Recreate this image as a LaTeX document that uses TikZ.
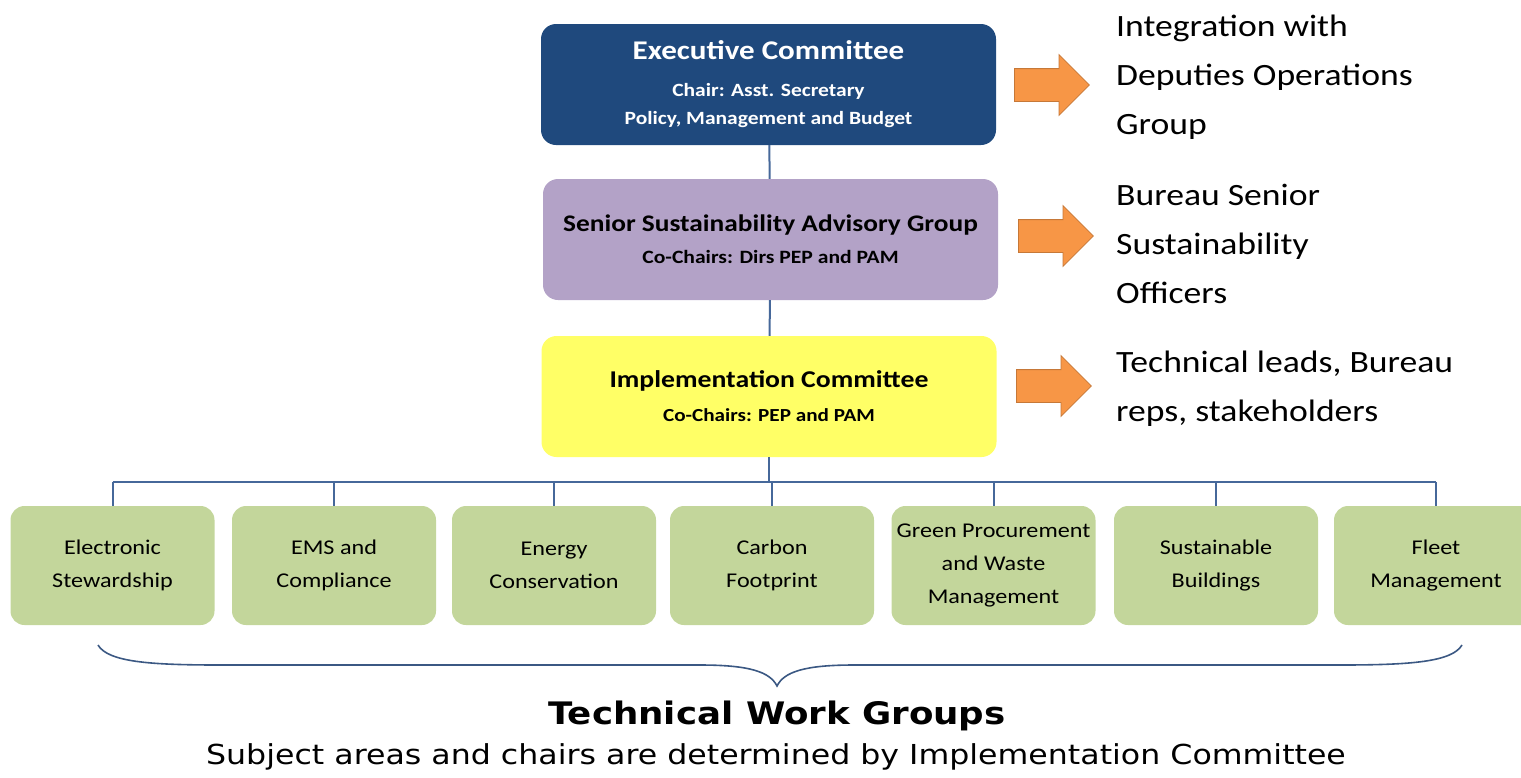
\documentclass[tikz,border=0pt]{standalone}
\usepackage{fontspec}
\setmainfont{Carlito}[FakeStretch=1.15]
\newfontfamily\wide{DejaVu Sans}[FakeStretch=1.15]
\usetikzlibrary{positioning,shapes.arrows}
\definecolor{execblue}{HTML}{1F497D}
\definecolor{advlilac}{HTML}{B3A2C7}
\definecolor{implyellow}{HTML}{FFFF66}
\definecolor{wggreen}{HTML}{C3D69B}
\definecolor{fwdorange}{HTML}{F79646}
\definecolor{linkblue}{HTML}{46689A}
\newcommand{\fs}[2]{\fontsize{#1}{#2}\selectfont}

\begin{document}
\begin{tikzpicture}[x=1pt,y=-1pt,
  board/.style={rounded corners=15pt,minimum width=455pt,minimum height=121pt,
    align=center,inner sep=0pt},
  wg/.style={fill=wggreen,rounded corners=14pt,minimum width=204pt,minimum height=119pt,
    align=center,inner sep=0pt,font=\fs{21}{33}},
  link/.style={draw=linkblue,line width=2pt},
  fwd/.style={single arrow,fill=fwdorange,draw=fwdorange!80!black,line width=.8pt,
    minimum height=75pt,inner xsep=0pt,inner ysep=16pt,single arrow head extend=14pt,
    anchor=tail},
  side/.style={anchor=west,align=left,inner sep=0pt,font=\fs{31}{49}}]
 \path[use as bounding box,clip] (0,0) rectangle (1521,777);
 % committees
 \node[board,fill=execblue,text=white,font=\fs{18.7}{28}\bfseries] (exec) at (768.5,84.5)
   {{\fs{27}{32}\selectfont Executive Committee}\\[9pt]Chair: Asst. Secretary\\Policy, Management and Budget};
 \node[board,fill=advlilac,font=\fs{18.8}{24}\bfseries] (adv) at (770.5,239.5)
   {{\fs{23.8}{28}\selectfont Senior Sustainability Advisory Group}\\[8pt]Co-Chairs: Dirs PEP and PAM};
 \node[board,fill=implyellow,font=\fs{18.4}{24}\bfseries] (impl) at (769,396.5)
   {{\fs{24.1}{28}\selectfont Implementation Committee}\\[10pt]Co-Chairs: PEP and PAM};
 \draw[link] (exec) -- (adv);
 \draw[link] (adv) -- (impl);
 % work groups
 \node[wg] (g1) at (112.5,565.5) {Electronic\\Stewardship};
 \node[wg] (g2) at (334,565.5) {EMS and\\Compliance};
 \node[wg] (g3) at (554,565.5) {Energy\\Conservation};
 \node[wg] (g4) at (772,565.5) {Carbon\\Footprint};
 \node[wg] (g5) at (993.5,565.5) {Green Procurement\\and Waste\\Management};
 \node[wg] (g6) at (1216,565.5) {Sustainable\\Buildings};
 \node[wg] (g7) at (1436,565.5) {Fleet\\Management};
 \coordinate (bus) at (769,482);
 \draw[link] (impl) -- (bus);
 \draw[link] (g1.north |- bus) -- (g7.north |- bus);
 \foreach \i in {1,...,7}
   \draw[link] (g\i.north |- bus) -- (g\i.north);
 % links outward
 \node[fwd] (f1) at (1014,85) {};
 \node[fwd] (f2) at (1018,236) {};
 \node[fwd] (f3) at (1016,386) {};
 \node[side] (t1) at (1116,77) {Integration with\\Deputies Operations\\Group};
 \node[side] (t2) at (1116,244) {Bureau Senior\\Sustainability\\Officers};
 \node[side] (t3) at (1116,389) {Technical leads, Bureau\\reps, stakeholders};
 % brace under the work groups
 \draw[linkblue!85!black,line width=1.6pt]
   (98,645) .. controls (108,662) and (150,665) .. (220,665) -- (700,665)
   .. controls (750,665) and (770,672) .. (777,686)
   .. controls (784,672) and (804,665) .. (854,665) -- (1340,665)
   .. controls (1410,665) and (1452,662) .. (1462,645);
 \node[font=\wide\fs{31}{36}\bfseries] (twg) at (777,716) {Technical Work Groups};
 \node[font=\wide\fs{27.5}{32}] (note) at (776,757)
   {Subject areas and chairs are determined by Implementation Committee};
\end{tikzpicture}
\end{document}
